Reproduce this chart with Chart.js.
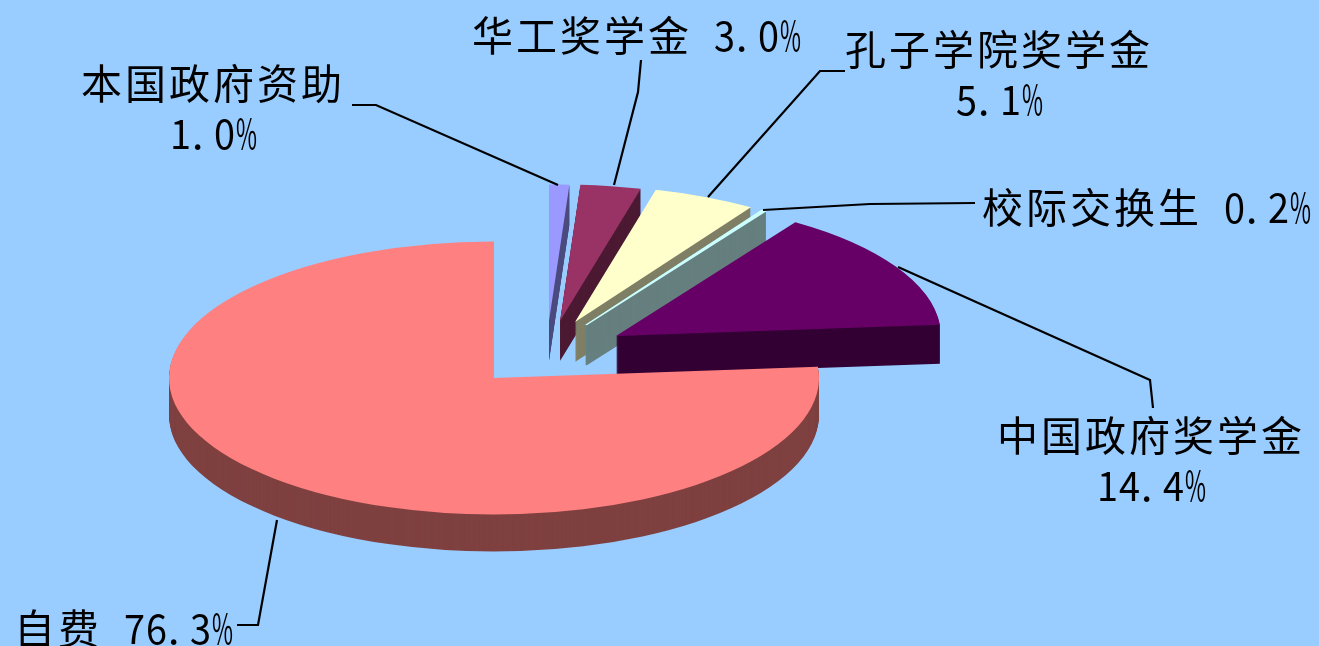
<!DOCTYPE html>
<html><head><meta charset="utf-8">
<style>html,body{margin:0;padding:0;background:#99CCFF;overflow:hidden}canvas{display:block}</style>
<script src="https://cdn.jsdelivr.net/npm/chart.js@4"></script>
</head><body><canvas id="c" width="1319" height="646"></canvas>
<script>
const categories = ['本国政府资助','华工奖学金','孔子学院奖学金','校际交换生','中国政府奖学金','自费'];
const values = [1.0, 3.0, 5.1, 0.2, 14.4, 76.3];
const faceColors = ['#9999FF','#993366','#FFFFCC','#CCFFFF','#660066','#FF8080'];
const sideColors = ['#4C4C7F','#4C1933','#7F7F66','#667F7F','#330033','#7F4040'];
const borderWidths = [0, 0, 0, 2, 0, 0];
// Apex of each exploded wedge on the page, and its wall height
const apexX = [549, 560, 575, 586, 616, 494];
const apexY = [321, 321, 322, 325, 336, 378];
const depths = [40, 40, 40, 40, 39, 37];
const RADIUS = 325, FLATTEN = 0.42;
const CJK = 44, HALF = 22;
const labelLayout = [
  {i:0, lines:[{t:n=>n, x:81, y:83},{t:(n,p)=>p, cx:214, y:133}], path:[[352,105],[376,105],[558,185]]},
  {i:1, lines:[{t:(n,p)=>n+' '+p, x:472, y:35}], path:[[641,60],[638,92],[614,185]]},
  {i:2, lines:[{t:n=>n, x:845, y:49},{t:(n,p)=>p, cx:1000, y:99}], path:[[845,71],[820,71],[708,197]]},
  {i:3, lines:[{t:(n,p)=>n+' '+p, x:982, y:207}], path:[[975,203],[870,204],[763,210]]},
  {i:4, lines:[{t:n=>n, x:997, y:435},{t:(n,p)=>p, cx:1152, y:485}], path:[[898,267],[1150,380],[1153,408]]},
  {i:5, lines:[{t:(n,p)=>n+' '+p, x:14, y:628}], path:[[277,520],[258,625],[237,625]]}
];
const isWide = ch => ch.charCodeAt(0) > 255;
const textWidth = s => [...s].reduce((w,ch)=>w+(isWide(ch)?CJK:HALF),0);

const pie3d = {
  id:'pie3d',
  beforeDraw(chart){
    const ctx = chart.ctx;
    ctx.save(); ctx.fillStyle='#99CCFF'; ctx.fillRect(0,0,chart.width,chart.height); ctx.restore();
  },
  beforeDatasetsDraw(chart){
    const ctx = chart.ctx, arcs = chart.getDatasetMeta(0).data;
    arcs.forEach((el,i)=>{
      const base = el.options;
      const paint = (color, drop) => {
        ctx.save();
        ctx.translate(apexX[i], apexY[i] + drop);
        ctx.scale(1, FLATTEN);
        ctx.translate(-el.x, -el.y);
        el.options = Object.create(base, {backgroundColor:{value:color}, borderColor:{value:color}});
        el.draw(ctx);
        el.options = base;
        ctx.restore();
      };
      for (let d = depths[i]; d >= 1; d--) paint(sideColors[i], d);
      paint(faceColors[i], 0);
    });
    return false;
  },
  afterDraw(chart){
    const ctx = chart.ctx;
    ctx.save();
    ctx.strokeStyle='#000'; ctx.lineWidth=2.2; ctx.lineJoin='miter';
    labelLayout.forEach(l=>{
      ctx.beginPath();
      l.path.forEach((p,k)=>k?ctx.lineTo(p[0],p[1]):ctx.moveTo(p[0],p[1]));
      ctx.stroke();
    });
    ctx.fillStyle='#000'; ctx.textBaseline='middle'; ctx.textAlign='left';
    ctx.font='41px "Noto Sans CJK SC"';
    labelLayout.forEach(l=>{
      const name = categories[l.i], pct = values[l.i].toFixed(1)+'%';
      l.lines.forEach(line=>{
        const s = line.t(name,pct);
        let x = line.x !== undefined ? line.x : line.cx - textWidth(s)/2;
        for (const ch of s){
          const cell = isWide(ch)?CJK:HALF;
          if (ch !== ' ') ctx.fillText(ch, x, line.y, cell-1);
          x += cell;
        }
      });
    });
    ctx.restore();
  }
};

new Chart(document.getElementById('c'),{
  type:'pie',
  data:{labels:categories,datasets:[{data:values,backgroundColor:faceColors,borderColor:faceColors,borderWidth:borderWidths,hoverOffset:0}]},
  options:{
    responsive:false,animation:false,radius:RADIUS,rotation:0,
    layout:{padding:0},
    events:[],
    plugins:{legend:{display:false},tooltip:{enabled:false},title:{display:false}}
  },
  plugins:[pie3d]
});
</script></body></html>
